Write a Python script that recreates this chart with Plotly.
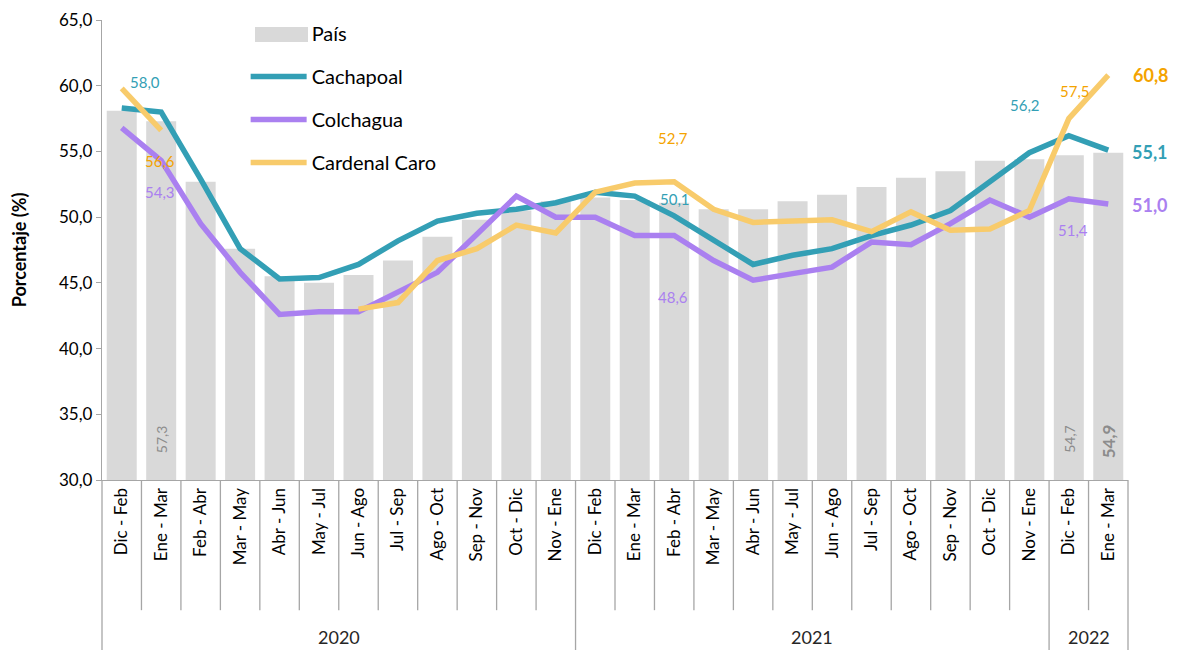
import plotly.graph_objects as go

# Categories (moving quarters) and year groups
months = ["Dic - Feb", "Ene - Mar", "Feb - Abr", "Mar - May", "Abr - Jun", "May - Jul",
          "Jun - Ago", "Jul - Sep", "Ago - Oct", "Sep - Nov", "Oct - Dic", "Nov - Ene"] * 2 \
         + ["Dic - Feb", "Ene - Mar"]
years = ["2020"] * 12 + ["2021"] * 12 + ["2022"] * 2

pais = [58.1, 57.3, 52.7, 47.6, 45.5, 45.0, 45.6, 46.7, 48.5, 49.8, 50.5, 51.2,
        51.5, 51.3, 51.1, 50.6, 50.6, 51.2, 51.7, 52.3, 53.0, 53.5, 54.3, 54.4,
        54.7, 54.9]
cachapoal = [58.3, 58.0, 52.9, 47.6, 45.3, 45.4, 46.4, 48.2, 49.7, 50.3, 50.6, 51.1,
             51.9, 51.6, 50.1, 48.2, 46.4, 47.1, 47.6, 48.6, 49.4, 50.5, 52.7, 54.9,
             56.2, 55.1]
colchagua = [56.8, 54.3, 49.5, 45.8, 42.6, 42.8, 42.8, 44.3, 45.8, 48.7, 51.6, 50.0,
             50.0, 48.6, 48.6, 46.7, 45.2, 45.7, 46.2, 48.1, 47.9, 49.5, 51.3, 50.0,
             51.4, 51.0]
cardenal = [59.8, 56.6, None, None, None, None, 43.0, 43.5, 46.7, 47.6, 49.4, 48.8,
            51.9, 52.6, 52.7, 50.6, 49.6, 49.7, 49.8, 48.9, 50.4, 49.0, 49.1, 50.5,
            57.5, 60.8]

x = list(range(len(months)))

TEAL = "#339FB5"
PURPLE = "#AA80F0"
YELLOW = "#F8CB6B"
ORANGE = "#F4A300"
BARC = "#D9D9D9"
GREY_TXT = "#8C8C8C"
FONT = "Lato, Open Sans, sans-serif"

fig = go.Figure()
fig.add_trace(go.Bar(x=x, y=pais, name="País", marker=dict(color=BARC, line_width=0),
                     legendgroup="a"))
fig.add_trace(go.Scatter(x=x, y=cachapoal, name="Cachapoal", mode="lines",
                         line=dict(color=TEAL, width=5.5), legendgroup="b"))
fig.add_trace(go.Scatter(x=x, y=colchagua, name="Colchagua", mode="lines",
                         line=dict(color=PURPLE, width=5.5), legendgroup="c"))
fig.add_trace(go.Scatter(x=x, y=cardenal, name="Cardenal Caro", mode="lines",
                         line=dict(color=YELLOW, width=5.5), legendgroup="d"))

# point labels: (index, series, color, xshift, yshift, size, bold)
labels = [
    (1, cachapoal, TEAL, -16, 30, 15, False),
    (1, cardenal, ORANGE, -1, -31, 15, False),
    (1, colchagua, PURPLE, -1, -31, 15, False),
    (14, cardenal, ORANGE, -1, 44, 15, False),
    (14, cachapoal, TEAL, 1, 17, 15, False),
    (14, colchagua, PURPLE, -1, -61, 15, False),
    (24, cachapoal, TEAL, -44, 31, 15, False),
    (24, cardenal, ORANGE, 6, 28, 15, False),
    (24, colchagua, PURPLE, 4, -31, 15, False),
    (25, cardenal, ORANGE, 43, 0, 18, True),
    (25, cachapoal, TEAL, 42, -2, 18, True),
    (25, colchagua, PURPLE, 42, -1, 18, True),
]
annotations = []
for i, s, c, dx, dy, sz, b in labels:
    txt = f"{s[i]:.1f}".replace(".", ",")
    if b:
        txt = f"<b>{txt}</b>"
    annotations.append(dict(x=x[i], y=s[i], text=txt, showarrow=False,
                            xshift=dx, yshift=dy,
                            font=dict(size=sz, color=c, family=FONT)))

# rotated bar labels
for i, sz, b, dy in [(1, 14, False, 25), (24, 14, False, 25), (25, 17, True, 20)]:
    txt = f"{pais[i]:.1f}".replace(".", ",")
    if b:
        txt = f"<b>{txt}</b>"
    annotations.append(dict(x=x[i], y=30, yanchor="bottom", text=txt, textangle=-90,
                            showarrow=False, yshift=dy,
                            font=dict(size=sz, color=GREY_TXT, family=FONT)))

# year group labels and dividers
n = len(months)
shapes = []
groups = []
for i, yr in enumerate(years):
    if not groups or groups[-1][0] != yr:
        groups.append([yr, i, i])
    else:
        groups[-1][2] = i
for yr, a, b in groups:
    annotations.append(dict(x=(a + b) / 2, xref="x", y=-0.341, yref="paper",
                            yanchor="middle", text=yr, showarrow=False,
                            font=dict(size=18, color="#262626", family=FONT)))
bounds = {a for _, a, _ in groups} | {n}
for k in range(n + 1):
    y1 = -0.387 if k in bounds else -0.283
    shapes.append(dict(type="line", xref="paper", yref="paper",
                       x0=k / n, x1=k / n, y0=0, y1=y1,
                       line=dict(color="#A6A6A6", width=1.3)))

# wide swatch behind the País legend entry
shapes.append(dict(type="rect", xref="paper", yref="paper",
                   x0=(255 - 102) / 1026, x1=(308 - 102) / 1026,
                   y0=(480 - 42) / 460, y1=(480 - 27) / 460,
                   fillcolor=BARC, line=dict(width=0), layer="above"))

# page body adds an 8px offset, so the figure is sized to fit inside the window
fig.update_layout(
    width=1163, height=642,
    margin=dict(l=94, r=43, t=12, b=170, autoexpand=False),
    plot_bgcolor="white", paper_bgcolor="white",
    separators=",.",
    bargap=0.24,
    font=dict(family=FONT, color="#262626"),
    showlegend=True,
    legend=dict(x=0.14, y=1.013, xanchor="left", yanchor="top",
                font=dict(size=20, color="#000000"), itemwidth=56,
                tracegroupgap=14, bgcolor="rgba(0,0,0,0)"),
    annotations=annotations,
    shapes=shapes,
)
fig.update_xaxes(range=[-0.5, n - 0.5], tickvals=x, ticktext=months,
                 tickangle=-90, tickfont=dict(size=17, color="#000000"),
                 showline=True, linecolor="#A6A6A6", linewidth=1.3,
                 showgrid=False, ticks="", zeroline=False, automargin=False)
fig.update_yaxes(range=[30, 65], dtick=5, tickformat=".1f",
                 tickfont=dict(size=17, color="#000000"),
                 showline=True, linecolor="#A6A6A6", linewidth=1.3,
                 ticks="outside", ticklen=5, tickcolor="#A6A6A6",
                 showgrid=False, zeroline=False, automargin=False,
                 title=dict(text="<b>Porcentaje (%)</b>", font=dict(size=18, color="#000000"),
                            standoff=28))

fig.write_html("out.html")
